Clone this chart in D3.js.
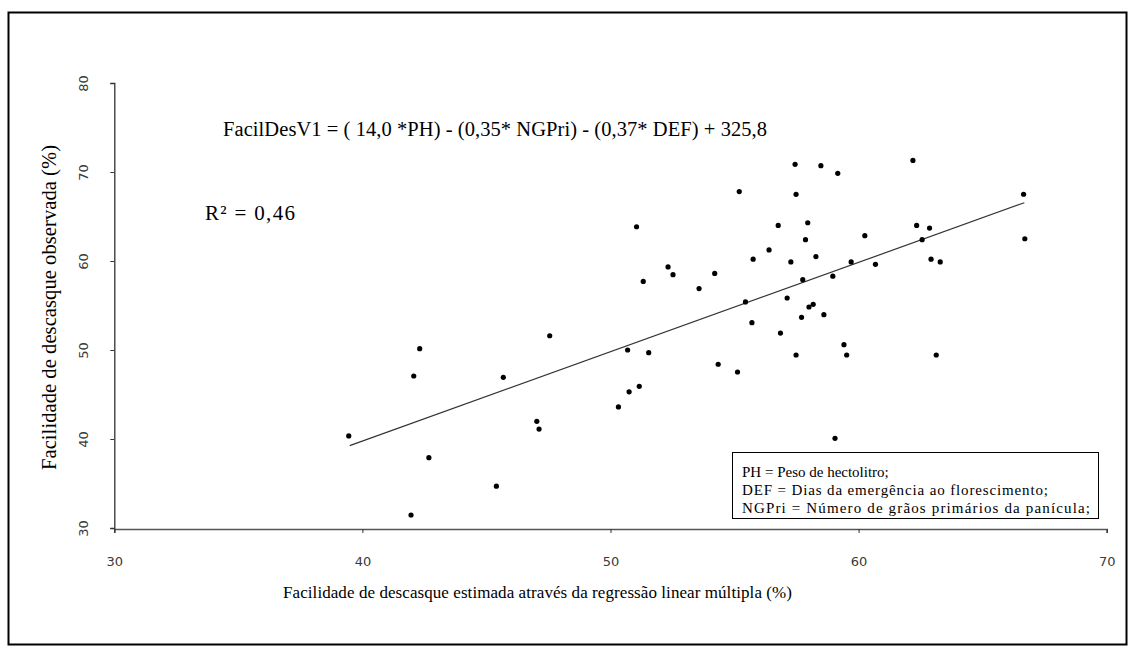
<!DOCTYPE html>
<html>
<head>
<meta charset="utf-8">
<script src="https://cdn.jsdelivr.net/npm/d3@7"></script>
<style>
  body { margin: 0; background: #fff; }
</style>
</head>
<body>
<div id="chart"></div>
<script>
const estimated = [39.45, 42.31, 42.07, 42.68, 41.96, 45.4, 45.68, 47.03, 47.12, 47.55,
  50.32, 50.69, 50.75, 51.16, 51.32, 51.54, 51.05, 52.32, 52.52, 54.2,
  53.57, 55.19, 54.34, 55.12, 57.44, 58.48, 59.16, 62.19, 57.48, 56.76,
  57.95, 62.34, 62.86, 57.86, 60.25, 62.56, 56.39, 55.75, 57.27, 58.28,
  59.7, 60.68, 62.92, 63.29, 57.75, 58.96, 55.44, 57.12, 58.0, 58.17,
  55.7, 57.7, 58.6, 56.85, 59.41, 57.48, 59.52, 63.13, 59.05, 66.65, 66.7];
const observed = [40.34, 50.15, 47.08, 37.9, 31.46, 34.7, 46.93, 41.99, 41.12, 51.6,
  43.6, 50.0, 45.3, 45.92, 57.7, 49.7, 63.85, 59.33, 58.46, 58.6,
  56.9, 67.8, 48.4, 47.53, 70.86, 70.71, 69.85, 71.3, 67.49, 64.0,
  64.3, 64.0, 63.7, 62.4, 62.84, 62.4, 61.24, 60.2, 59.9, 60.5,
  59.9, 59.63, 60.2, 59.9, 57.9, 58.3, 55.4, 55.84, 54.83, 55.13,
  53.07, 53.67, 53.97, 51.9, 50.6, 49.44, 49.44, 49.44, 40.08, 67.5, 62.5];

// trend line end points
const trendX = [39.49, 66.68];
const trendY = [39.26, 66.55];

const xTicks = [30, 40, 50, 60, 70];
const yTicks = [30, 40, 50, 60, 70, 80];

const legendLines = [
  "PH = Peso de hectolitro;",
  "DEF = Dias da emergência ao florescimento;",
  "NGPri = Número de grãos primários da panícula;"
];
const legendWidths = [null, 306, 348];

const width = 1134;
const height = 648;
const serif = "'Liberation Serif', 'Times New Roman', serif";
const sans = "'DejaVu Sans', Verdana, sans-serif";

const svg = d3.select("#chart")
  .append("svg")
  .attr("width", width)
  .attr("height", height);

// outer frame
svg.append("rect")
  .attr("x", 8.5)
  .attr("y", 12.5)
  .attr("width", 1118)
  .attr("height", 632)
  .attr("fill", "none")
  .attr("stroke", "#000")
  .attr("stroke-width", 2);

const x = d3.scaleLinear().domain([30, 70]).range([114.3, 1106.7]);
const y = d3.scaleLinear().domain([30, 80]).range([528, 83]);

// x axis
const xAxis = svg.append("g")
  .attr("transform", `translate(0,${y(30) + 1})`)
  .call(d3.axisBottom(x).tickValues(xTicks).tickSize(4).tickPadding(24));
xAxis.select(".domain").attr("stroke", "#555").attr("stroke-width", 1.6);
xAxis.selectAll(".tick line").attr("stroke", "#333");
xAxis.selectAll("text")
  .attr("font-family", sans)
  .attr("font-size", 13)
  .attr("fill", "#3a3a3a");

// y axis
const yAxis = svg.append("g")
  .attr("transform", `translate(${x(30)},0)`)
  .call(d3.axisLeft(y).tickValues(yTicks).tickSize(4).tickSizeOuter(4));
yAxis.select(".domain").attr("stroke", "#333").attr("stroke-width", 1.3);
yAxis.selectAll(".tick line").attr("stroke", "#333");
yAxis.selectAll("text")
  .attr("font-family", sans)
  .attr("font-size", 13)
  .attr("fill", "#3a3a3a")
  .attr("text-anchor", "middle")
  .attr("transform", "rotate(-90)")
  .attr("x", 0)
  .attr("y", -31)
  .attr("dy", "0.35em");

// trend line
svg.append("line")
  .attr("x1", x(trendX[0]))
  .attr("y1", y(trendY[0]))
  .attr("x2", x(trendX[1]))
  .attr("y2", y(trendY[1]))
  .attr("stroke", "#333")
  .attr("stroke-width", 1.2);

// points
svg.append("g")
  .selectAll("circle")
  .data(d3.range(estimated.length))
  .join("circle")
  .attr("cx", i => x(estimated[i]))
  .attr("cy", i => y(observed[i]))
  .attr("r", 2.6)
  .attr("fill", "#000");

// equation and R²
svg.append("text")
  .attr("x", 223)
  .attr("y", 136)
  .attr("font-family", serif)
  .attr("font-size", 20.5)
  .attr("fill", "#000")
  .attr("textLength", 544)
  .attr("lengthAdjust", "spacing")
  .text("FacilDesV1 = ( 14,0 *PH) - (0,35* NGPri) - (0,37* DEF) + 325,8");

svg.append("text")
  .attr("x", 205)
  .attr("y", 220)
  .attr("font-family", serif)
  .attr("font-size", 21)
  .attr("fill", "#000")
  .attr("textLength", 90)
  .attr("lengthAdjust", "spacing")
  .text("R² = 0,46");

// axis titles
svg.append("text")
  .attr("x", 283)
  .attr("y", 598)
  .attr("font-family", serif)
  .attr("font-size", 17)
  .attr("fill", "#000")
  .attr("textLength", 509)
  .attr("lengthAdjust", "spacing")
  .text("Facilidade de descasque estimada através da regressão linear múltipla (%)");

svg.append("text")
  .attr("transform", "translate(56,470) rotate(-90)")
  .attr("font-family", serif)
  .attr("font-size", 20.5)
  .attr("fill", "#000")
  .attr("textLength", 325)
  .attr("lengthAdjust", "spacing")
  .text("Facilidade de descasque observada (%)");

// legend box
const legend = svg.append("g");
legend.append("rect")
  .attr("x", 732.5)
  .attr("y", 452.5)
  .attr("width", 366)
  .attr("height", 66)
  .attr("fill", "#fff")
  .attr("stroke", "#000")
  .attr("stroke-width", 1);

legend.selectAll("text")
  .data(legendLines)
  .join("text")
  .attr("x", 742)
  .attr("y", (d, i) => 477 + i * 18)
  .attr("font-family", serif)
  .attr("font-size", 15)
  .attr("fill", "#000")
  .attr("textLength", (d, i) => legendWidths[i])
  .attr("lengthAdjust", "spacing")
  .text(d => d);
</script>
</body>
</html>
